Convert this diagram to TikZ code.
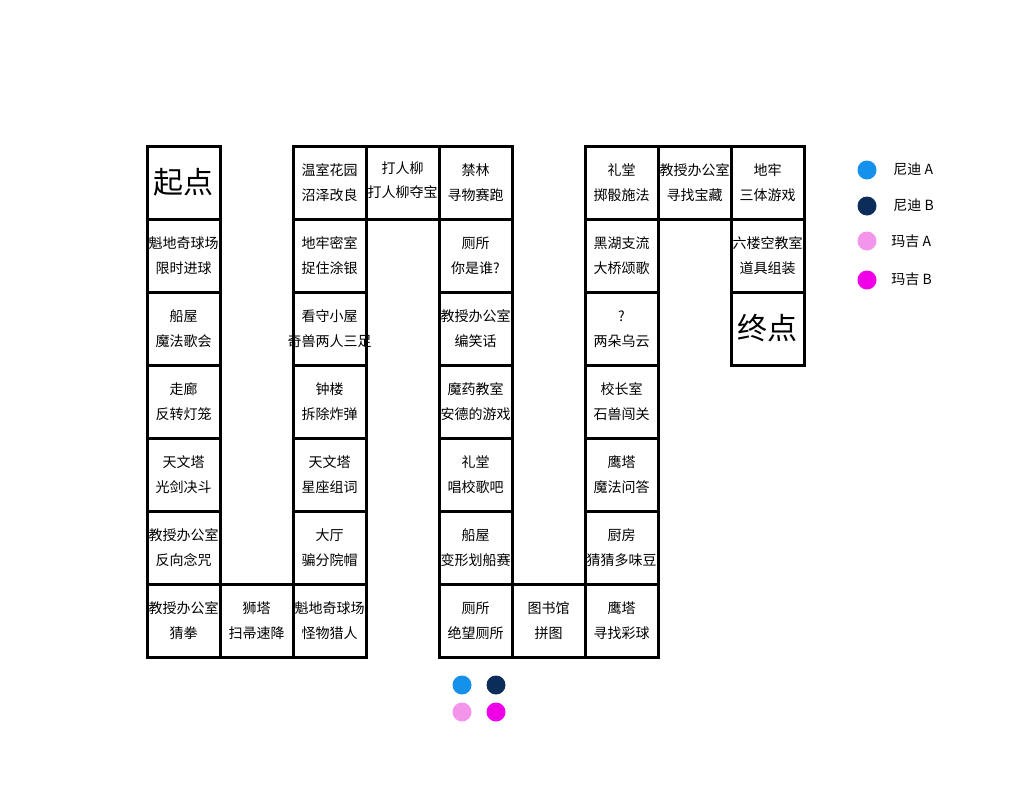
\documentclass[tikz,border=0pt]{standalone}
\usepackage{fontspec}
\usetikzlibrary{calc}
\setmainfont{Noto Sans CJK SC}
\definecolor{nA}{RGB}{20,145,235}
\definecolor{nB}{RGB}{12,45,90}
\definecolor{mA}{RGB}{243,150,235}
\definecolor{mB}{RGB}{240,0,230}
\begin{document}
\begin{tikzpicture}[x=0.5pt,y=-0.5pt,
  cellbox/.style={draw,line width=1.5pt,minimum width=36.5pt,minimum height=36.5pt,inner sep=0pt},
  lbl/.style={font=\fontsize{7}{8}\selectfont,inner sep=0pt},
  big/.style={font=\fontsize{15}{16}\selectfont,inner sep=0pt},
  dot/.style={circle,minimum size=9.5pt,inner sep=0pt}]
\useasboundingbox (0,0) rectangle (1024,804);
\newcommand{\cellA}[5]{% name, col, row, line1, line2
  \node[cellbox] (#1) at ({183.5+73*#2},{182.5+73*#3}) {};
  \node[lbl] (#1t) at ($(#1)+(0,-12)$) {#4};
  \node[lbl] (#1b) at ($(#1)+(0,13)$) {#5};}
\newcommand{\cellB}[4]{% name, col, row, text
  \node[cellbox] (#1) at ({183.5+73*#2},{182.5+73*#3}) {};
  \node[big] (#1t) at (#1) {#4};}
\cellB{s}{0}{0}{起点}
\cellA{a1}{0}{1}{魁地奇球场}{限时进球}
\cellA{a2}{0}{2}{船屋}{魔法歌会}
\cellA{a3}{0}{3}{走廊}{反转灯笼}
\cellA{a4}{0}{4}{天文塔}{光剑决斗}
\cellA{a5}{0}{5}{教授办公室}{反向念咒}
\cellA{a6}{0}{6}{教授办公室}{猜拳}
\cellA{b6}{1}{6}{狮塔}{扫帚速降}
\cellA{c0}{2}{0}{温室花园}{沼泽改良}
\cellA{c1}{2}{1}{地牢密室}{捉住涂银}
\cellA{c2}{2}{2}{看守小屋}{奇兽两人三足}
\cellA{c3}{2}{3}{钟楼}{拆除炸弹}
\cellA{c4}{2}{4}{天文塔}{星座组词}
\cellA{c5}{2}{5}{大厅}{骗分院帽}
\cellA{c6}{2}{6}{魁地奇球场}{怪物猎人}
\node[cellbox] (d0) at ({183.5+73*3},182.5) {};
\node[lbl] (d0t) at ($(d0)+(0,-14)$) {打人柳};
\node[lbl] (d0b) at ($(d0)+(0,10)$) {打人柳夺宝};
\cellA{e0}{4}{0}{禁林}{寻物赛跑}
\cellA{e1}{4}{1}{厕所}{你是谁?}
\cellA{e2}{4}{2}{教授办公室}{编笑话}
\cellA{e3}{4}{3}{魔药教室}{安德的游戏}
\cellA{e4}{4}{4}{礼堂}{唱校歌吧}
\cellA{e5}{4}{5}{船屋}{变形划船赛}
\cellA{e6}{4}{6}{厕所}{绝望厕所}
\cellA{f6}{5}{6}{图书馆}{拼图}
\cellA{g0}{6}{0}{礼堂}{掷骰施法}
\cellA{g1}{6}{1}{黑湖支流}{大桥颂歌}
\cellA{g2}{6}{2}{?}{两朵乌云}
\cellA{g3}{6}{3}{校长室}{石兽闯关}
\cellA{g4}{6}{4}{鹰塔}{魔法问答}
\cellA{g5}{6}{5}{厨房}{猜猜多味豆}
\cellA{g6}{6}{6}{鹰塔}{寻找彩球}
\cellA{h0}{7}{0}{教授办公室}{寻找宝藏}
\cellA{i0}{8}{0}{地牢}{三体游戏}
\cellA{i1}{8}{1}{六楼空教室}{道具组装}
\cellB{i2}{8}{2}{终点}
% legend
\node[dot,fill=nA] (l1) at (867,170) {};
\node[dot,fill=nB] (l2) at (867,206) {};
\node[dot,fill=mA] (l3) at (867,241) {};
\node[dot,fill=mB] (l4) at (867,280) {};
\node[lbl,anchor=west] (l1t) at (893,169) {尼迪 A};
\node[lbl,anchor=west] (l2t) at (893,205) {尼迪 B};
\node[lbl,anchor=west] (l3t) at (891,241) {玛吉 A};
\node[lbl,anchor=west] (l4t) at (891,279) {玛吉 B};
% tokens
\node[dot,fill=nA] (p1) at (462,685) {};
\node[dot,fill=nB] (p2) at (496,685) {};
\node[dot,fill=mA] (p3) at (462,712) {};
\node[dot,fill=mB] (p4) at (496,712) {};
\end{tikzpicture}
\end{document}
